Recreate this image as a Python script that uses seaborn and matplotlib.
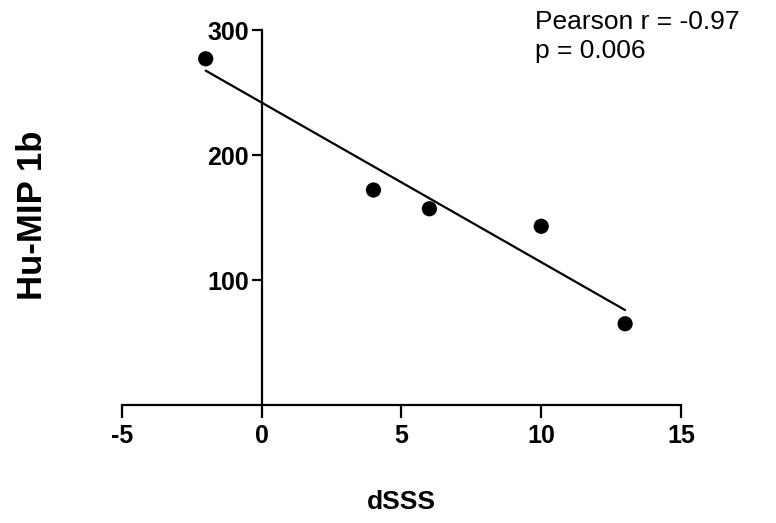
import numpy as np
import pandas as pd
import seaborn as sns
import matplotlib
matplotlib.use("Agg")
import matplotlib.pyplot as plt

# data
dsss = [-2, 4, 6, 10, 13]
mip1b = [277, 172, 157, 143, 65]
x_ticks = [-5, 0, 5, 10, 15]
y_ticks = [100, 200, 300]

df = pd.DataFrame({"dSSS": dsss, "Hu-MIP 1b": mip1b})

sns.set_style("white")
plt.rcParams['font.family'] = ['Liberation Sans', 'DejaVu Sans']
plt.rcParams['axes.unicode_minus'] = False
plt.rcParams['text.color'] = 'black'

fig = plt.figure(figsize=(7.76, 5.23), dpi=100)
ax = fig.add_axes([0.157, 0.2256, 0.7206, 0.717])

sns.regplot(data=df, x="dSSS", y="Hu-MIP 1b", ci=None, ax=ax,
            scatter_kws={"s": 120, "color": "black", "alpha": 1, "zorder": 3,
                         "clip_on": False, "edgecolor": "none"},
            line_kws={"color": "black", "linewidth": 1.6, "zorder": 2})

ax.set_xlim(-5, 15)
ax.set_ylim(0, 300)
ax.set_xticks(x_ticks)
ax.set_yticks(y_ticks)

for s in ["top", "right"]:
    ax.spines[s].set_visible(False)
ax.spines["left"].set_position(("data", 0))
for s in ["left", "bottom"]:
    ax.spines[s].set_linewidth(1.6)
    ax.spines[s].set_color("black")

ax.tick_params(axis="x", direction="out", length=9, width=1.6, pad=5,
               labelsize=18, colors="black", bottom=True)
ax.tick_params(axis="y", direction="out", length=7, width=1.6, pad=2,
               labelsize=18, colors="black", left=True)
for lab in ax.get_xticklabels() + ax.get_yticklabels():
    lab.set_fontweight("bold")

ax.set_xlabel("dSSS", fontsize=19, fontweight="bold", labelpad=30, color="black")
ax.set_ylabel("")
fig.text(0.042, 0.589, "Hu-MIP 1b", rotation=90, fontsize=25, fontweight="bold",
         ha="center", va="center", color="black")

fig.text(0.69, 0.98, "Pearson r = -0.97\np = 0.006", fontsize=19,
         ha="left", va="top", linespacing=1.25, color="black")

fig.savefig("out.png", dpi=100)
